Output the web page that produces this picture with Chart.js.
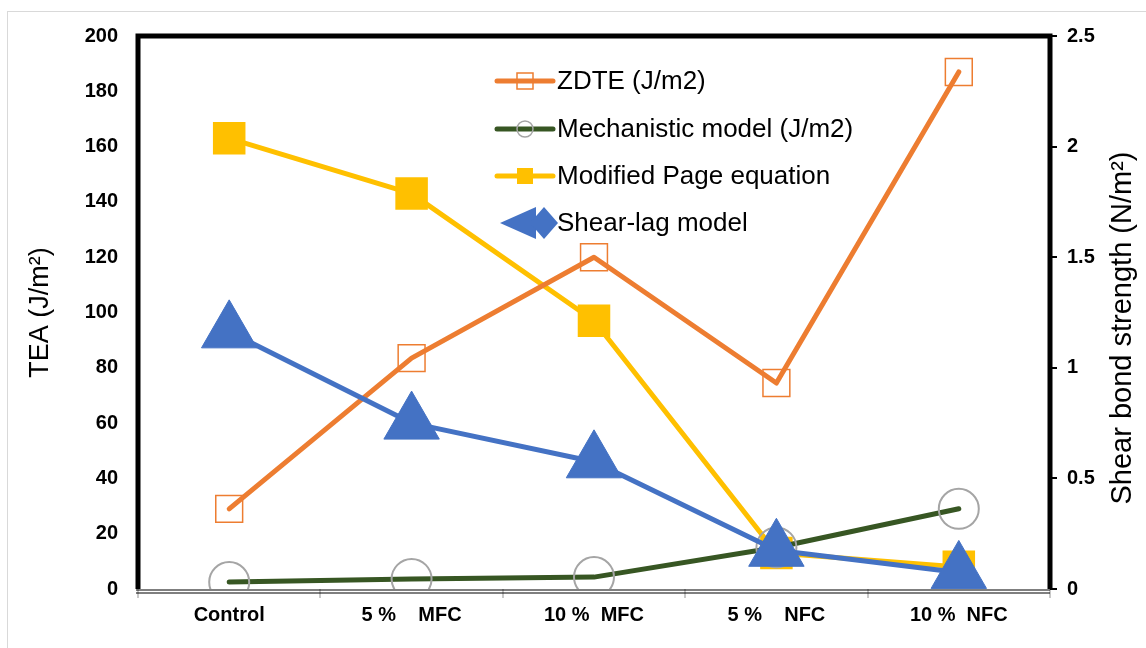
<!DOCTYPE html>
<html lang="en">
<head>
    <meta charset="UTF-8">
    <script src="https://cdn.jsdelivr.net/npm/chart.js"></script>
    <title>TEA vs shear bond strength</title>
    <style>
        body { margin: 0; background: #fff; }
        #wrap { width: 1146px; height: 648px; }
    </style>
</head>
<body>
    <div id="wrap"><canvas id="myChartCanvas" width="1146" height="648"></canvas></div>

<script>
    // categories and values
    const categories = ['Control', '5 %    MFC', '10 %  MFC', '5 %    NFC', '10 %  NFC'];
    const zdte = [29, 83.5, 120, 74.5, 187];
    const mechanistic = [2.5, 3.6, 4.3, 15, 29];
    const modifiedPage = [163, 143, 97, 13, 8];
    const shearLag = [93, 60, 46, 14, 6];

    const leftTicks = [0, 20, 40, 60, 80, 100, 120, 140, 160, 180, 200];
    const rightTicks = [0, 0.5, 1, 1.5, 2, 2.5];

    const seriesNames = ['ZDTE (J/m2)', 'Mechanistic model (J/m2)', 'Modified Page equation', 'Shear-lag model'];
    const rightTitle = 'Shear bond strength (N/m²)';

    const fontFam = "'Liberation Sans', Arial, sans-serif";

    // frame: thick black on left/top/right, thin double line at bottom
    const framePlugin = {
        id: 'frame',
        beforeDraw(chart) {
            const ctx = chart.ctx;
            ctx.save();
            ctx.strokeStyle = '#d9d9d9';
            ctx.lineWidth = 1;
            ctx.strokeRect(7.5, 11.5, 1150, 650);
            ctx.restore();
        },
        beforeDatasetsDraw(chart) {
            const { ctx, chartArea: a } = chart;
            ctx.save();
            ctx.strokeStyle = '#000';
            ctx.lineWidth = 5;
            ctx.lineJoin = 'miter';
            ctx.beginPath();
            ctx.moveTo(a.left, a.bottom);
            ctx.lineTo(a.left, a.top);
            ctx.lineTo(a.right, a.top);
            ctx.lineTo(a.right, a.bottom);
            ctx.stroke();
            ctx.lineWidth = 1.2;
            ctx.beginPath();
            ctx.moveTo(a.left - 2, a.bottom + 1);
            ctx.lineTo(a.right, a.bottom + 1);
            ctx.moveTo(a.left - 2, a.bottom + 4);
            ctx.lineTo(a.right, a.bottom + 4);
            ctx.stroke();

            // right axis title reads bottom to top, like the left one
            ctx.translate(1123, 328);
            ctx.rotate(-Math.PI / 2);
            ctx.font = '29px ' + fontFam;
            ctx.fillStyle = '#000';
            ctx.textAlign = 'center';
            ctx.textBaseline = 'middle';
            ctx.fillText(rightTitle, 0, 0);
            ctx.restore();
        },
        afterDatasetsDraw(chart) {
            // legend drawn by hand: line segment + marker + text
            const ctx = chart.ctx;
            const x0 = 497, x1 = 553, xm = 525, tx = 557;
            const rows = [81, 129, 176, 223];
            const colors = ['#ED7D31', '#375623', '#FFC000', '#4472C4'];
            ctx.save();
            ctx.font = '26px ' + fontFam;
            ctx.textBaseline = 'middle';
            rows.forEach(function (y, i) {
                if (i < 3) {
                    ctx.strokeStyle = colors[i];
                    ctx.lineWidth = 5;
                    ctx.lineCap = 'round';
                    ctx.beginPath();
                    ctx.moveTo(x0, y);
                    ctx.lineTo(x1, y);
                    ctx.stroke();
                }
                if (i === 0) {
                    ctx.strokeStyle = '#ED7D31';
                    ctx.lineWidth = 1.5;
                    ctx.strokeRect(xm - 8, y - 8, 16, 16);
                } else if (i === 1) {
                    ctx.strokeStyle = '#A5A5A5';
                    ctx.lineWidth = 1.5;
                    ctx.beginPath();
                    ctx.arc(xm, y, 8, 0, Math.PI * 2);
                    ctx.stroke();
                } else if (i === 2) {
                    ctx.fillStyle = '#FFC000';
                    ctx.fillRect(xm - 8, y - 8, 16, 16);
                } else {
                    ctx.fillStyle = '#4472C4';
                    ctx.beginPath();
                    ctx.moveTo(500, y);
                    ctx.lineTo(536, y - 16);
                    ctx.lineTo(536, y + 16);
                    ctx.closePath();
                    ctx.fill();
                    ctx.beginPath();
                    ctx.moveTo(530, y);
                    ctx.lineTo(544, y - 16);
                    ctx.lineTo(558, y);
                    ctx.lineTo(544, y + 16);
                    ctx.closePath();
                    ctx.fill();
                    ctx.fillRect(530, y - 2.5, 20, 5);
                }
                ctx.fillStyle = '#000';
                ctx.fillText(seriesNames[i], tx, y + 1);
            });
            ctx.restore();
        }
    };

    const dados = {
        labels: categories,
        datasets: [
            {
                label: seriesNames[3],
                data: shearLag,
                borderColor: '#4472C4',
                backgroundColor: '#4472C4',
                borderWidth: 5,
                pointStyle: 'triangle',
                pointRadius: 32,
                pointBorderWidth: 1,
                order: 1
            },
            {
                label: seriesNames[1],
                data: mechanistic,
                borderColor: '#375623',
                backgroundColor: 'rgba(0,0,0,0)',
                borderWidth: 5,
                pointStyle: 'circle',
                pointRadius: 20,
                pointBorderColor: '#A5A5A5',
                pointBorderWidth: 2,
                order: 2
            },
            {
                label: seriesNames[0],
                data: zdte,
                borderColor: '#ED7D31',
                backgroundColor: 'rgba(0,0,0,0)',
                borderWidth: 5,
                pointStyle: 'rect',
                pointRadius: 19,
                pointBorderColor: '#ED7D31',
                pointBorderWidth: 1.5,
                order: 3
            },
            {
                label: seriesNames[2],
                data: modifiedPage,
                borderColor: '#FFC000',
                backgroundColor: '#FFC000',
                borderWidth: 5,
                pointStyle: 'rect',
                pointRadius: 23,
                pointBorderWidth: 0,
                order: 4
            }
        ]
    };

    const tickFont = { family: fontFam, size: 20, weight: 'bold' };

    const config = {
        type: 'line',
        data: dados,
        options: {
            responsive: false,
            animation: false,
            layout: { padding: { top: 36, left: 0, right: 0, bottom: 0 } },
            plugins: {
                legend: { display: false },
                tooltip: { enabled: false }
            },
            elements: { line: { tension: 0, borderCapStyle: 'round', borderJoinStyle: 'round' } },
            scales: {
                x: {
                    offset: true,
                    grid: {
                        offset: true,
                        drawOnChartArea: false,
                        drawTicks: true,
                        tickLength: 9,
                        color: '#c8c8c8',
                        lineWidth: 2
                    },
                    border: { display: false },
                    ticks: {
                        color: '#000',
                        font: tickFont,
                        padding: 5,
                        maxRotation: 0,
                        autoSkip: false
                    },
                    afterFit(scale) { scale.height = 59; }
                },
                y: {
                    position: 'left',
                    min: 0,
                    max: 200,
                    afterBuildTicks(scale) { scale.ticks = leftTicks.map(v => ({ value: v })); },
                    grid: { display: false, drawTicks: false },
                    border: { display: false },
                    ticks: {
                        color: '#000',
                        font: tickFont,
                        padding: 20
                    },
                    title: {
                        display: true,
                        text: 'TEA (J/m²)',
                        color: '#000',
                        font: { family: fontFam, size: 27 },
                        padding: { top: 24, bottom: 0 }
                    },
                    afterFit(scale) { scale.width = 138; }
                },
                y2: {
                    position: 'right',
                    min: 0,
                    max: 2.5,
                    afterBuildTicks(scale) { scale.ticks = rightTicks.map(v => ({ value: v })); },
                    grid: {
                        drawOnChartArea: false,
                        drawTicks: true,
                        tickLength: 7,
                        color: '#000',
                        lineWidth: 2
                    },
                    border: { display: false },
                    ticks: {
                        color: '#000',
                        font: tickFont,
                        padding: 10,
                        callback: v => String(v)
                    },
                    afterFit(scale) { scale.width = 96; }
                }
            }
        },
        plugins: [framePlugin]
    };

    let myChart = new Chart(document.getElementById('myChartCanvas'), config);
</script>
</body>
</html>
